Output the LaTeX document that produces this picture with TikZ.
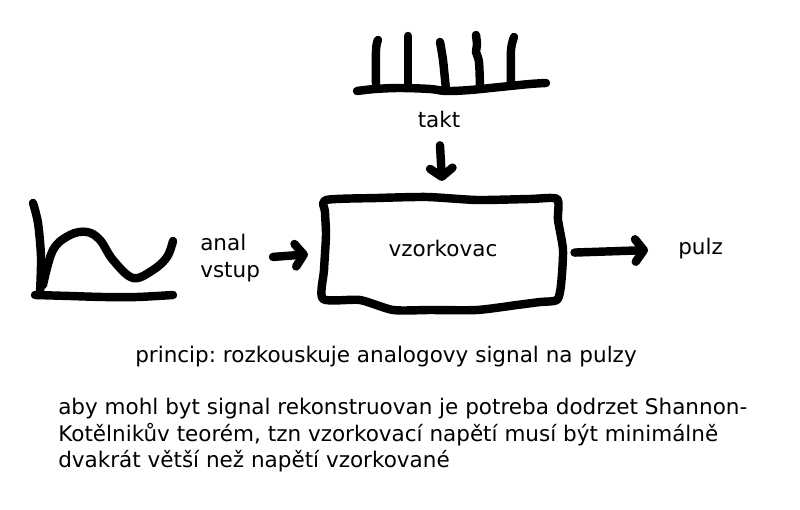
\documentclass[tikz,border=0pt]{standalone}
\usepackage{fontspec}
\setmainfont{DejaVu Sans}
\usetikzlibrary{arrows.meta}
\frenchspacing

\begin{document}
\begin{tikzpicture}[x=0.025cm, y=-0.025cm,
  hand/.style={line width=6pt, line cap=round, line join=round},
  arr/.style={hand, -{Straight Barb[length=6pt, width=16pt, round]}},
  lbl/.style={inner sep=0pt, font=\fontsize{15.3}{18.8}\selectfont},
]
\useasboundingbox (0,0) rectangle (800,510);

% clock
\draw[hand] plot[smooth, tension=0.6] coordinates {(357,91) (375,89) (400,88) (430,89) (446,91) (470,90) (500,87) (530,84) (546,83)};
\draw[hand] plot[smooth] coordinates {(378,40) (376,50) (376,88)};
\draw[hand] (408,36) -- (408,87);
\draw[hand] plot[smooth] coordinates {(440,42) (443,60) (446,90)};
\draw[hand] plot[smooth] coordinates {(476,35) (477,45) (476,52) (479,62) (480,88)};
\draw[hand] plot[smooth] coordinates {(514,37) (511,50) (511,85)};

% analog signal
\draw[hand] plot[smooth] coordinates {(33,203) (38,223) (41,257) (40,293)};
\draw[hand] plot[smooth, tension=0.5] coordinates {(35,295) (70,296) (103,297) (137,297) (173,295)};
\draw[hand] plot[smooth, tension=0.6] coordinates {(43,285) (53,250) (70,235) (87,232) (100,240) (113,260) (133,278) (153,270) (167,257) (173,241)};

% sampler outline
\draw[hand] plot[smooth cycle, tension=0.4] coordinates {(326,200) (377,198) (427,197) (477,200) (530,199) (557,199)
  (558,220) (563,250) (561,285) (557,300) (540,302) (517,305) (477,310) (430,310) (393,310) (360,300) (323,299)
  (324,270) (326,235) (325,212)};

\node[lbl, anchor=base] (takt) at (439,128) {takt};
\node[lbl, minimum width=5.9cm, minimum height=2.75cm, text height=0.3cm, text depth=0.1cm] (box) at (443,253) {vzorkovac};
\node[lbl, anchor=north west, align=left] (vin) at (200,234) {anal\\vstup};
\node[lbl, anchor=base west] (pulz) at (678,255) {pulz};
\node[lbl, anchor=base west] (princip) at (135,362) {princip: rozkouskuje analogovy signal na pulzy};
\node[lbl, anchor=north west, align=left] (note) at (58,398) {aby mohl byt signal rekonstruovan je potreba dodrzet Shannon-\\Kotělnikův teorém, tzn vzorkovací napětí musí být minimálně\\dvakrát větší než napětí vzorkované};

\draw[arr, shorten <=0.42cm, shorten >=0.42cm] (takt.south) -- (box.north);
\draw[arr, shorten <=0.32cm, shorten >=0.42cm] (vin.east) -- (box.west);
\draw[arr, shorten <=0.33cm, shorten >=0.75cm] (box.east) -- (pulz.west);
\end{tikzpicture}
\end{document}
